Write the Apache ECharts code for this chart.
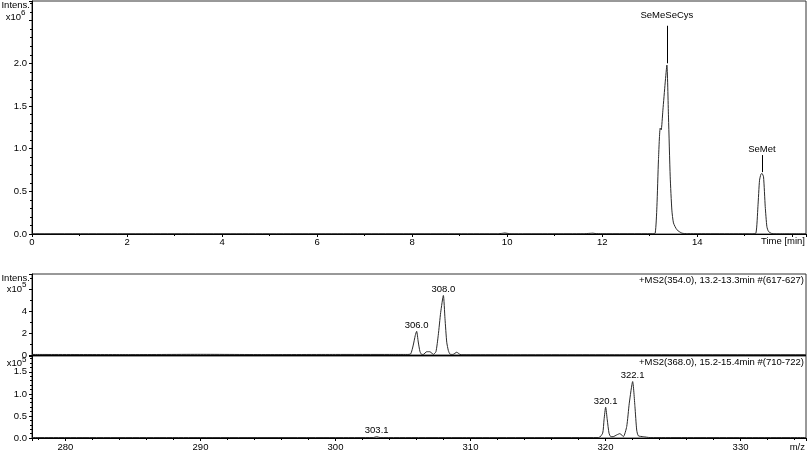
<!DOCTYPE html>
<html><head><meta charset="utf-8">
<script src="https://cdn.jsdelivr.net/npm/echarts@6/dist/echarts.min.js"></script>
<style>html,body{margin:0;padding:0;background:#fff}#c{width:808px;height:452px}</style>
</head><body><div id="c"></div>
<script>
// --- Top: chromatogram (Time [min], Intens. x10^6)
const chromTime = [0, 2, 4, 6, 8, 9.8, 9.9, 9.95, 10.0, 10.1, 11.6, 11.75, 11.8, 11.85, 12.0, 13.05, 13.116, 13.152, 13.185, 13.221, 13.242, 13.278, 13.326, 13.362, 13.396, 13.432, 13.467, 13.501, 13.573, 13.678, 13.8, 15.15, 15.236, 15.278, 15.312, 15.341, 15.362, 15.396, 15.432, 15.467, 15.501, 15.573, 15.7, 16.29];
const chromInt  = [0.002, 0.002, 0.002, 0.002, 0.002, 0.002, 0.008, 0.012, 0.008, 0.002, 0.003, 0.008, 0.01, 0.006, 0.003, 0.003, 0.01, 0.32, 0.87, 1.24, 1.22, 1.45, 1.77, 1.98, 1.37, 0.67, 0.28, 0.13, 0.05, 0.01, 0.004, 0.002, 0.01, 0.32, 0.63, 0.70, 0.71, 0.67, 0.32, 0.085, 0.03, 0.005, 0.002, 0.002];
const chromPeakNames = ['SeMeSeCys', 'SeMet'];
const chromPeakTime  = [13.362, 15.362];
const chromPeakBase  = [2.0, 0.725];
const chromPeakTop   = [2.44, 0.925];

// --- Middle: +MS2(354.0) spectrum (m/z, Intens. x10^5)
const ms1Mz  = [277.52, 285, 290, 295, 300, 304, 305.3, 305.57, 305.76, 305.91, 306.01, 306.13, 306.26, 306.39, 306.5, 306.76, 307.0, 307.24, 307.44, 307.61, 307.79, 307.99, 308.11, 308.24, 308.36, 308.48, 308.7, 308.98, 309.22, 309.44, 312, 320, 334.85];
const ms1Int = [0.05, 0.04, 0.06, 0.04, 0.05, 0.05, 0.05, 0.1, 0.9, 1.78, 2.15, 1.18, 0.3, 0.05, 0.05, 0.3, 0.3, 0.05, 0.3, 1.78, 3.85, 5.4, 3.3, 1.16, 0.4, 0.08, 0.05, 0.25, 0.05, 0.02, 0.02, 0.02, 0.02];
const ms1LabelText = ['306.0', '308.0'];
const ms1LabelMz   = [306.01, 307.99];
const ms1LabelInt  = [2.15, 5.4];

// --- Bottom: +MS2(368.0) spectrum (m/z, Intens. x10^5)
const ms2Mz  = [277.52, 290, 300, 302.8, 303.05, 303.3, 310, 319.5, 319.79, 319.89, 320.01, 320.13, 320.26, 320.39, 320.56, 320.83, 321.07, 321.32, 321.57, 321.76, 322.01, 322.18, 322.31, 322.43, 322.8, 323.3, 334.85];
const ms2Int = [0.01, 0.01, 0.01, 0.01, 0.03, 0.01, 0.01, 0.01, 0.11, 0.41, 0.70, 0.41, 0.11, 0.03, 0.03, 0.07, 0.1, 0.03, 0.26, 0.79, 1.28, 0.71, 0.18, 0.05, 0.03, 0.01, 0.01];
const ms2LabelText = ['303.1', '320.1', '322.1'];
const ms2LabelMz   = [303.05, 320.01, 322.01];
const ms2LabelInt  = [0.03, 0.70, 1.28];

const FONT = '"Liberation Sans", Arial, sans-serif';
const FS = 9.5;
const zip = (a, b) => a.map((v, i) => [v, b[i]]);

const axisCommon = {
  type: 'value',
  axisLine: { show: true, onZero: false, lineStyle: { color: '#000', width: 1 } },
  axisTick: { show: true, length: 3, lineStyle: { color: '#000' } },
  splitLine: { show: false },
};
const labelStyle = { fontSize: FS, color: '#000', fontFamily: FONT };
const peakLabel = Object.assign({ show: true, position: 'top', formatter: p => p.name, textBorderWidth: 0, opacity: 1 }, labelStyle);

const chart = echarts.init(document.getElementById('c'), null, { renderer: 'canvas' });

const gridStyle = { show: true, borderColor: '#333', borderWidth: 1, backgroundColor: 'transparent', containLabel: false };

const option = {
  animation: false,
  backgroundColor: '#fff',
  grid: [
    Object.assign({ left: 32, top: 1, width: 774, height: 233 }, gridStyle),
    Object.assign({ left: 32, top: 274, width: 774, height: 81 }, gridStyle),
    Object.assign({ left: 32, top: 356, width: 774, height: 82 }, gridStyle),
  ],
  xAxis: [
    Object.assign({}, axisCommon, {
      gridIndex: 0, min: 0, max: 16.29, interval: 2,
      minorTick: { show: true, splitNumber: 2, length: 2, lineStyle: { color: '#000' } },
      axisLabel: Object.assign({ margin: 3, showMaxLabel: false, formatter: v => (v >= 16 ? '' : String(v)) }, labelStyle),
    }),
    Object.assign({}, axisCommon, {
      gridIndex: 1, min: 277.52, max: 334.85,
      axisTick: { show: false }, axisLabel: { show: false },
    }),
    Object.assign({}, axisCommon, {
      gridIndex: 2, min: 277.52, max: 334.85, splitNumber: 5,
      minorTick: { show: true, splitNumber: 5, length: 2, lineStyle: { color: '#000' } },
      axisLabel: Object.assign({ margin: 4, showMinLabel: false, showMaxLabel: false,
        formatter: v => (Math.abs(v % 10) < 1e-6 ? String(v) : '') }, labelStyle),
    }),
  ],
  yAxis: [
    Object.assign({}, axisCommon, {
      gridIndex: 0, min: 0, max: 2.73, interval: 0.5,
      minorTick: { show: true, splitNumber: 5, length: 2, lineStyle: { color: '#000' } },
      axisLabel: Object.assign({ margin: 5, showMaxLabel: false, formatter: v => (v > 2.2 ? '' : v.toFixed(1)) }, labelStyle),
    }),
    Object.assign({}, axisCommon, {
      gridIndex: 1, min: 0, max: 7.35, interval: 2,
      minorTick: { show: true, splitNumber: 2, length: 2, lineStyle: { color: '#000' } },
      axisLabel: Object.assign({ margin: 5, showMaxLabel: false, formatter: v => (v > 5 ? '' : String(v)) }, labelStyle),
    }),
    Object.assign({}, axisCommon, {
      gridIndex: 2, min: 0, max: 1.86, interval: 0.5,
      minorTick: { show: true, splitNumber: 5, length: 2, lineStyle: { color: '#000' } },
      axisLabel: Object.assign({ margin: 5, showMaxLabel: false, formatter: v => v.toFixed(1) }, labelStyle),
    }),
  ],
  series: [
    { type: 'line', xAxisIndex: 0, yAxisIndex: 0, data: zip(chromTime, chromInt), showSymbol: false, smooth: 0.2,
      lineStyle: { color: '#2a2a2a', width: 1 }, silent: true },
    { type: 'line', xAxisIndex: 1, yAxisIndex: 1, data: zip(ms1Mz, ms1Int), showSymbol: false, smooth: 0.2,
      lineStyle: { color: '#2a2a2a', width: 1 }, silent: true },
    { type: 'line', xAxisIndex: 2, yAxisIndex: 2, data: zip(ms2Mz, ms2Int), showSymbol: false, smooth: 0.2,
      lineStyle: { color: '#2a2a2a', width: 1 }, silent: true },
    { type: 'scatter', xAxisIndex: 0, yAxisIndex: 0, symbolSize: 0, silent: true, itemStyle: { opacity: 1, color: '#000' },
      data: chromPeakNames.map((n, i) => ({ value: [chromPeakTime[i], chromPeakTop[i]], name: n,
        label: { distance: i === 0 ? 5 : 1 } })),
      label: Object.assign({}, peakLabel, { distance: 3 }),
      markLine: { silent: true, symbol: ['none', 'none'], label: { show: false },
        lineStyle: { color: '#000', width: 1, type: 'solid', opacity: 1 },
        data: chromPeakNames.map((n, i) => [{ coord: [chromPeakTime[i], chromPeakBase[i]] }, { coord: [chromPeakTime[i], chromPeakTop[i]] }]) } },
    { type: 'scatter', xAxisIndex: 1, yAxisIndex: 1, symbolSize: 0, silent: true, itemStyle: { opacity: 1, color: '#000' },
      data: ms1LabelText.map((n, i) => ({ value: [ms1LabelMz[i], ms1LabelInt[i]], name: n })),
      label: Object.assign({}, peakLabel, { distance: 1 }) },
    { type: 'scatter', xAxisIndex: 2, yAxisIndex: 2, symbolSize: 0, silent: true, itemStyle: { opacity: 1, color: '#000' },
      data: ms2LabelText.map((n, i) => ({ value: [ms2LabelMz[i], ms2LabelInt[i]], name: n })),
      label: Object.assign({}, peakLabel, { distance: 1 }) },
  ],
  graphic: [
    { type: 'text', silent: true, style: { text: 'Intens.', x: 30, y: 5, align: 'right', verticalAlign: 'middle', font: FS + 'px ' + FONT, fill: '#000' } },
    { type: 'text', silent: true, style: { text: 'x10', x: 21, y: 17, align: 'right', verticalAlign: 'middle', font: FS + 'px ' + FONT, fill: '#000' } },
    { type: 'text', silent: true, style: { text: '6', x: 21, y: 12.5, align: 'left', verticalAlign: 'middle', font: '8px ' + FONT, fill: '#000' } },

    { type: 'text', silent: true, style: { text: 'Intens.', x: 30, y: 278, align: 'right', verticalAlign: 'middle', font: FS + 'px ' + FONT, fill: '#000' } },
    { type: 'text', silent: true, style: { text: 'x10', x: 22, y: 289, align: 'right', verticalAlign: 'middle', font: FS + 'px ' + FONT, fill: '#000' } },
    { type: 'text', silent: true, style: { text: '5', x: 22, y: 285, align: 'left', verticalAlign: 'middle', font: '8px ' + FONT, fill: '#000' } },

    { type: 'text', silent: true, style: { text: 'x10', x: 22, y: 363.5, align: 'right', verticalAlign: 'middle', font: FS + 'px ' + FONT, fill: '#000' } },
    { type: 'text', silent: true, style: { text: '5', x: 22, y: 360, align: 'left', verticalAlign: 'middle', font: '8px ' + FONT, fill: '#000' } },

    { type: 'text', silent: true, style: { text: '+MS2(354.0), 13.2-13.3min #(617-627)', x: 804, y: 280, align: 'right', verticalAlign: 'middle', font: FS + 'px ' + FONT, fill: '#000' } },
    { type: 'text', silent: true, style: { text: '+MS2(368.0), 15.2-15.4min #(710-722)', x: 804, y: 362, align: 'right', verticalAlign: 'middle', font: FS + 'px ' + FONT, fill: '#000' } },
    { type: 'text', silent: true, style: { text: 'Time [min]', x: 805, y: 241.5, align: 'right', verticalAlign: 'middle', font: FS + 'px ' + FONT, fill: '#000' } },
    { type: 'text', silent: true, style: { text: 'm/z', x: 805, y: 447.5, align: 'right', verticalAlign: 'middle', font: FS + 'px ' + FONT, fill: '#000' } },
  ],
};
chart.setOption(option);
</script>
</body></html>
